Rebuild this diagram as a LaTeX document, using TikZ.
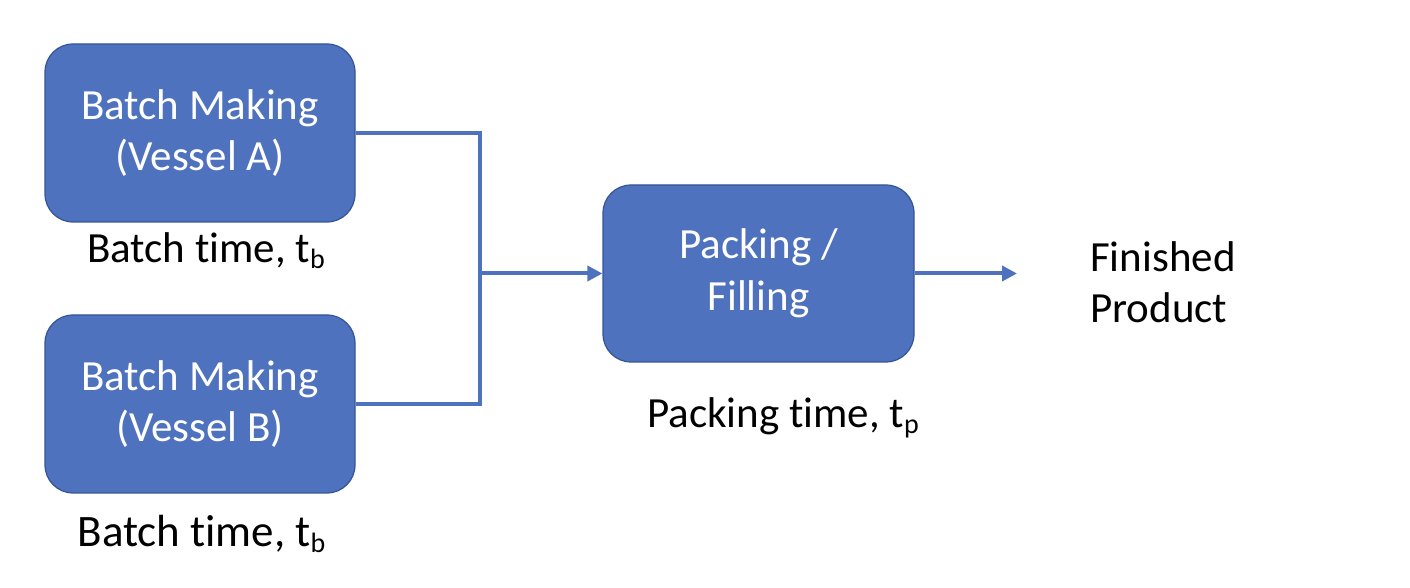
\documentclass[tikz,border=0pt]{standalone}
\usepackage{fontspec}
\setmainfont{Carlito}[Ligatures={NoCommon}]
\usetikzlibrary{arrows.meta}
\definecolor{boxfill}{RGB}{79,114,190}
\definecolor{boxedge}{RGB}{52,84,150}
\definecolor{linkblue}{RGB}{79,114,190}
\newcommand\lowsub[1]{\raisebox{-6pt}{\fontsize{28}{28}\selectfont #1}}
\begin{document}
\begin{tikzpicture}[x=1pt,y=1pt,
  procbox/.style={draw=boxedge, line width=1.2pt, fill=boxfill, rounded corners=28pt,
    minimum width=310pt, minimum height=178pt, inner sep=0pt, text=white, align=center,
    font=\fontsize{43}{51.5}\selectfont},
  lbl/.style={inner sep=0pt, anchor=base, font=\fontsize{43}{51.5}\selectfont},
  link/.style={draw=linkblue, line width=4pt, line join=miter},
  arrowlink/.style={link, -{Triangle[length=15pt,width=15pt]}}]
\useasboundingbox (0,0) rectangle (1410,588);
\node[procbox] (A) at (200,455) {Batch Making\\(Vessel A)};
\node[procbox] (B) at (200,184) {Batch Making\\(Vessel B)};
\node[procbox, minimum width=311pt, minimum height=177pt] (P) at (758.5,314.5) {Packing /\\Filling};
\node[lbl] (la) at (206,325) {Batch time, t\lowsub{b}};
\node[lbl, font=\fontsize{45}{51.5}\selectfont] (lb) at (201.5,41) {Batch time, t\lowsub{b}};
\node[lbl] (lp) at (783,160) {Packing time, t\lowsub{p}};
\node[inner sep=0pt, anchor=west, align=left, font=\fontsize{43}{51.5}\selectfont] (fp) at (1090,306) {Finished\\Product};
\coordinate (jt) at (480,455);
\coordinate (jb) at (480,184);
\coordinate (j) at (480,314.5);
\coordinate (end) at (1017,314.5);
\draw[link] (A.east) -- (jt) -- (jb) -- (B.east);
\draw[arrowlink] (j) -- (P.west);
\draw[arrowlink] (P.east) -- (end);
\end{tikzpicture}
\end{document}
